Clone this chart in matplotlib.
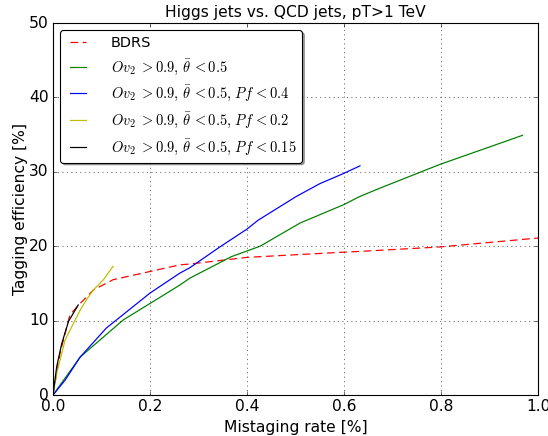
import matplotlib
matplotlib.use("Agg")
import matplotlib.pyplot as plt

plt.style.use('classic')
plt.rcParams['mathtext.fontset'] = 'cm'
plt.rcParams['font.size'] = 14

bdrs_x = [0.0, 0.0144, 0.035, 0.056, 0.083, 0.124, 0.2, 0.262, 0.282, 0.4, 0.6, 0.633, 0.798, 1.0]
bdrs_y = [0.0, 5.6, 10.8, 12.3, 14.1, 15.5, 16.6, 17.5, 17.6, 18.5, 19.2, 19.3, 19.9, 21.1]

g_x = [0.0, 0.056, 0.145, 0.2, 0.262, 0.282, 0.368, 0.427, 0.509, 0.6, 0.633, 0.674, 0.798, 0.968]
g_y = [0.0, 5.1, 10.1, 12.3, 14.8, 15.7, 18.6, 20.0, 23.1, 25.6, 26.7, 27.8, 31.0, 34.9]

b_x = [0.0, 0.025, 0.056, 0.11, 0.2, 0.262, 0.282, 0.344, 0.4, 0.423, 0.502, 0.55, 0.6, 0.633]
b_y = [0.0, 2.0, 5.1, 9.0, 13.7, 16.4, 17.1, 19.9, 22.3, 23.5, 26.7, 28.4, 29.8, 30.8]

y_x = [0.0, 0.0076, 0.025, 0.042, 0.056, 0.069, 0.083, 0.104, 0.124]
y_y = [0.0, 2.9, 7.4, 9.6, 11.4, 12.8, 14.1, 15.5, 17.3]

k_x = [0.0, 0.0076, 0.018, 0.032, 0.042, 0.052]
k_y = [0.0, 3.8, 6.9, 9.9, 11.0, 12.1]

labels = ['BDRS',
          r'$Ov_2\ {>}0.9,\,\bar{\theta}\,{<}0.5$',
          r'$Ov_2\ {>}0.9,\,\bar{\theta}\,{<}0.5,\,Pf\,{<}0.4$',
          r'$Ov_2\ {>}0.9,\,\bar{\theta}\,{<}0.5,\,Pf\,{<}0.2$',
          r'$Ov_2\ {>}0.9,\,\bar{\theta}\,{<}0.5,\,Pf\,{<}0.15$']

fig = plt.figure(figsize=(548/80, 436/80), dpi=80)
ax = fig.add_axes([53/548, 41/436, 485/548, 372/436])
ax.plot(bdrs_x, bdrs_y, 'r--', dashes=(7, 4), lw=1.1, label=labels[0])
ax.plot(g_x, g_y, 'g-', lw=1.1, label=labels[1])
ax.plot(b_x, b_y, 'b-', lw=1.1, label=labels[2])
ax.plot(y_x, y_y, 'y-', lw=1.1, label=labels[3])
ax.plot(k_x, k_y, 'k-', lw=1.1, label=labels[4])
ax.set_xlim(0, 1)
ax.set_ylim(0, 50)
ax.grid(True)
ax.tick_params(labelsize=14)
ax.set_xlabel('Mistaging rate [%]', fontsize=14)
ax.set_ylabel('Tagging efficiency [%]', fontsize=14, labelpad=0.5)
ax.set_title('Higgs jets vs. QCD jets, pT>1 TeV', fontsize=14)
ax.legend(loc='upper left', fancybox=True, shadow=True, fontsize=13,
          handlelength=1.7, handletextpad=1.4)
fig.savefig('out.png', dpi=80)
